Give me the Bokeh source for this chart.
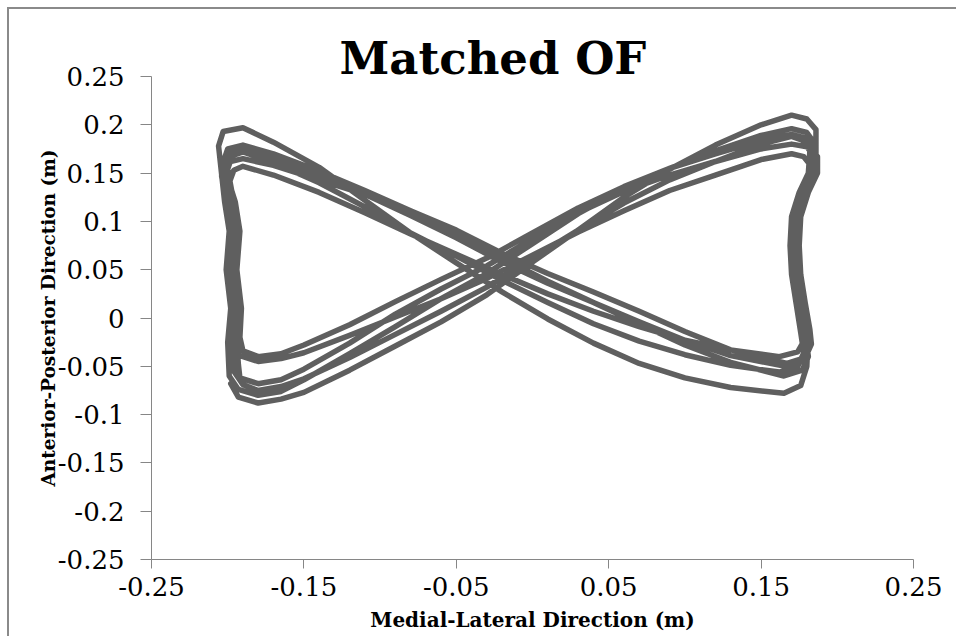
from bokeh.plotting import figure
from bokeh.models import FixedTicker, Range1d, Title
from bokeh.embed import file_html
from bokeh.resources import INLINE

title_text = "Matched OF"
x_label = "Medial-Lateral Direction (m)"
y_label = "Anterior-Posterior Direction (m)"

x_ticks = [-0.25, -0.15, -0.05, 0.05, 0.15, 0.25]
x_tick_labels = ["-0.25", "-0.15", "-0.05", "0.05", "0.15", "0.25"]
y_ticks = [0.25, 0.2, 0.15, 0.1, 0.05, 0, -0.05, -0.1, -0.15, -0.2, -0.25]
y_tick_labels = ["0.25", "0.2", "0.15", "0.1", "0.05", "0", "-0.05", "-0.1", "-0.15", "-0.2", "-0.25"]

# trajectory (m)
c1_x = [-0.198, -0.193, -0.180, -0.165, -0.150, -0.120, -0.090, -0.060, -0.030, 0.000, 0.030, 0.060, 0.090, 0.120, 0.150, 0.170, 0.180, 0.186,
        0.186, 0.180, 0.175, 0.174, 0.175, 0.178, 0.181, 0.180, 0.176, 0.165,
        0.130, 0.100, 0.070, 0.040, 0.010, -0.020, -0.050, -0.080, -0.110, -0.140, -0.170, -0.190,
        -0.203, -0.206, -0.202, -0.199, -0.201, -0.198, -0.200, -0.199]
c1_y = [-0.068, -0.082, -0.088, -0.084, -0.077, -0.054, -0.029, -0.004, 0.024, 0.058, 0.091, 0.125, 0.154, 0.179, 0.200, 0.210, 0.206, 0.195,
        0.150, 0.130, 0.105, 0.075, 0.045, 0.015, -0.015, -0.050, -0.070, -0.078,
        -0.072, -0.062, -0.047, -0.026, -0.001, 0.027, 0.057, 0.088, 0.122, 0.156, 0.182, 0.197,
        0.193, 0.178, 0.120, 0.090, 0.050, 0.010, -0.025, -0.060]

c2_x = [-0.193, -0.180, -0.165, -0.150, -0.120, -0.090, -0.060, -0.030, 0.000, 0.030, 0.060, 0.090, 0.120, 0.150, 0.170, 0.180, 0.185,
        0.184, 0.178, 0.173, 0.172, 0.173, 0.176, 0.179, 0.181, 0.177, 0.165,
        0.130, 0.100, 0.070, 0.040, 0.010, -0.020, -0.050, -0.080, -0.110, -0.140, -0.170, -0.190,
        -0.200, -0.203, -0.199, -0.196, -0.198, -0.195, -0.197, -0.196]
c2_y = [-0.074, -0.080, -0.076, -0.064, -0.037, -0.009, 0.020, 0.046, 0.077, 0.108, 0.134, 0.155, 0.173, 0.189, 0.196, 0.192, 0.181,
        0.150, 0.130, 0.105, 0.075, 0.045, 0.015, -0.015, -0.040, -0.054, -0.060,
        -0.046, -0.028, -0.006, 0.016, 0.038, 0.062, 0.088, 0.111, 0.132, 0.152, 0.170, 0.179,
        0.175, 0.161, 0.120, 0.090, 0.050, 0.010, -0.025, -0.055]

c3_x = [-0.190, -0.180, -0.165, -0.150, -0.120, -0.090, -0.060, -0.030, 0.000, 0.030, 0.060, 0.090, 0.120, 0.150, 0.170, 0.177, 0.182,
        0.181, 0.175, 0.170, 0.169, 0.170, 0.173, 0.176, 0.178, 0.174, 0.162,
        0.130, 0.100, 0.070, 0.040, 0.010, -0.020, -0.050, -0.080, -0.110, -0.140, -0.170, -0.190,
        -0.197, -0.200, -0.196, -0.193, -0.195, -0.192, -0.194, -0.193]
c3_y = [-0.069, -0.075, -0.071, -0.063, -0.041, -0.017, 0.007, 0.032, 0.062, 0.091, 0.119, 0.143, 0.162, 0.180, 0.188, 0.184, 0.173,
        0.150, 0.130, 0.105, 0.075, 0.045, 0.015, -0.015, -0.036, -0.050, -0.056,
        -0.049, -0.038, -0.024, -0.006, 0.016, 0.039, 0.064, 0.088, 0.115, 0.140, 0.161, 0.172,
        0.168, 0.154, 0.120, 0.090, 0.050, 0.010, -0.025, -0.048]

c4_x = [-0.192, -0.180, -0.165, -0.150, -0.120, -0.090, -0.060, -0.030, 0.000, 0.030, 0.060, 0.090, 0.120, 0.150, 0.170, 0.181, 0.187,
        0.187, 0.181, 0.176, 0.175, 0.176, 0.179, 0.182, 0.183, 0.179, 0.167,
        0.130, 0.100, 0.070, 0.040, 0.010, -0.020, -0.050, -0.080, -0.110, -0.140, -0.170, -0.190,
        -0.201, -0.204, -0.201, -0.198, -0.200, -0.197, -0.198]
c4_y = [-0.062, -0.068, -0.064, -0.053, -0.026, 0.004, 0.030, 0.054, 0.082, 0.109, 0.131, 0.148, 0.162, 0.175, 0.180, 0.177, 0.167,
        0.150, 0.130, 0.105, 0.075, 0.045, 0.015, -0.012, -0.027, -0.041, -0.047,
        -0.033, -0.014, 0.007, 0.027, 0.046, 0.067, 0.091, 0.111, 0.128, 0.143, 0.158, 0.165,
        0.161, 0.147, 0.120, 0.090, 0.050, 0.010, -0.025]

c5_x = [-0.192, -0.180, -0.165, -0.150, -0.120, -0.090, -0.060, -0.030, 0.000, 0.030, 0.060, 0.090, 0.120, 0.150, 0.170, 0.178, 0.183,
        0.182, 0.176, 0.171, 0.170, 0.171, 0.174, 0.177, 0.178, 0.174, 0.162,
        0.130, 0.100, 0.070, 0.040, 0.010, -0.020, -0.050, -0.080, -0.110, -0.140, -0.170, -0.190,
        -0.196, -0.199, -0.195, -0.192, -0.194, -0.191, -0.192]
c5_y = [-0.039, -0.045, -0.042, -0.036, -0.018, 0.001, 0.020, 0.041, 0.065, 0.089, 0.111, 0.132, 0.148, 0.164, 0.170, 0.167, 0.157,
        0.140, 0.120, 0.100, 0.075, 0.045, 0.015, -0.010, -0.024, -0.035, -0.040,
        -0.033, -0.023, -0.009, 0.007, 0.025, 0.045, 0.066, 0.087, 0.109, 0.130, 0.148, 0.157,
        0.153, 0.140, 0.120, 0.090, 0.050, 0.010, -0.020]

c6_x = [-0.190, -0.180, -0.165, -0.150, -0.120, -0.090, -0.060, -0.030, 0.000, 0.030, 0.060, 0.090, 0.120, 0.150, 0.170, 0.180, 0.186,
        0.185, 0.179, 0.174, 0.173, 0.174, 0.177, 0.180, 0.182, 0.178, 0.166,
        0.130, 0.100, 0.070, 0.040, 0.010, -0.020, -0.050, -0.080, -0.110, -0.140, -0.170, -0.190,
        -0.199, -0.202, -0.198, -0.195, -0.197, -0.194, -0.196, -0.195]
c6_y = [-0.034, -0.040, -0.037, -0.028, -0.007, 0.017, 0.040, 0.062, 0.088, 0.114, 0.136, 0.155, 0.170, 0.184, 0.190, 0.186, 0.175,
        0.150, 0.130, 0.105, 0.075, 0.045, 0.015, -0.012, -0.030, -0.044, -0.050,
        -0.039, -0.023, -0.004, 0.016, 0.036, 0.058, 0.083, 0.106, 0.128, 0.148, 0.165, 0.175,
        0.171, 0.157, 0.120, 0.090, 0.050, 0.010, -0.025, -0.055]

xs = c1_x + c2_x + c3_x + c4_x + c5_x + c6_x
ys = c1_y + c2_y + c3_y + c4_y + c5_y + c6_y

AXIS_GREY = "#868686"
LINE_GREY = "#5f5f5f"

p = figure(width=949, height=629,
           x_range=Range1d(-0.25, 0.25), y_range=Range1d(-0.25, 0.25),
           output_backend="svg", toolbar_location=None,
           min_border_left=142, min_border_right=45,
           min_border_top=67, min_border_bottom=79)
p.styles = {"margin-left": "7px", "margin-top": "7px",
            "border-left": "2px solid #8a8a8a", "border-top": "2px solid #8a8a8a"}
p.outline_line_color = None
p.grid.visible = False
p.background_fill_color = "white"
p.border_fill_color = "white"

p.title = Title(text=title_text, align="left", offset=188, standoff=-17,
                text_font="DejaVu Serif", text_font_style="bold",
                text_font_size="45px", text_color="#000000")

p.line(xs, ys, line_color=LINE_GREY, line_width=5.5, line_join="round", line_cap="round")

p.xaxis.ticker = FixedTicker(ticks=x_ticks)
p.xaxis.major_label_overrides = dict(zip(x_ticks, x_tick_labels))
p.yaxis.ticker = FixedTicker(ticks=y_ticks)
p.yaxis.major_label_overrides = dict(zip(y_ticks, y_tick_labels))

for ax in (p.xaxis[0], p.yaxis[0]):
    ax.axis_line_color = AXIS_GREY
    ax.axis_line_width = 1
    ax.major_tick_line_color = AXIS_GREY
    ax.major_tick_in = 0
    ax.minor_tick_line_color = None
    ax.major_label_text_font = "DejaVu Serif"
    ax.major_label_text_font_size = "26px"
    ax.major_label_text_color = "#000000"
    ax.axis_label_text_font = "DejaVu Serif"
    ax.axis_label_text_font_style = "bold"
    ax.axis_label_text_color = "#000000"

p.xaxis.major_tick_out = 9
p.xaxis.major_label_standoff = 8
p.xaxis.axis_label = x_label
p.xaxis.axis_label_text_font_size = "20px"
p.xaxis.axis_label_standoff = 9

p.yaxis.major_tick_out = 11
p.yaxis.major_label_standoff = 16
p.yaxis.axis_label = y_label
p.yaxis.axis_label_text_font_size = "18.5px"
p.yaxis.axis_label_standoff = -4

open("out.html", "w").write(file_html(p, INLINE))
